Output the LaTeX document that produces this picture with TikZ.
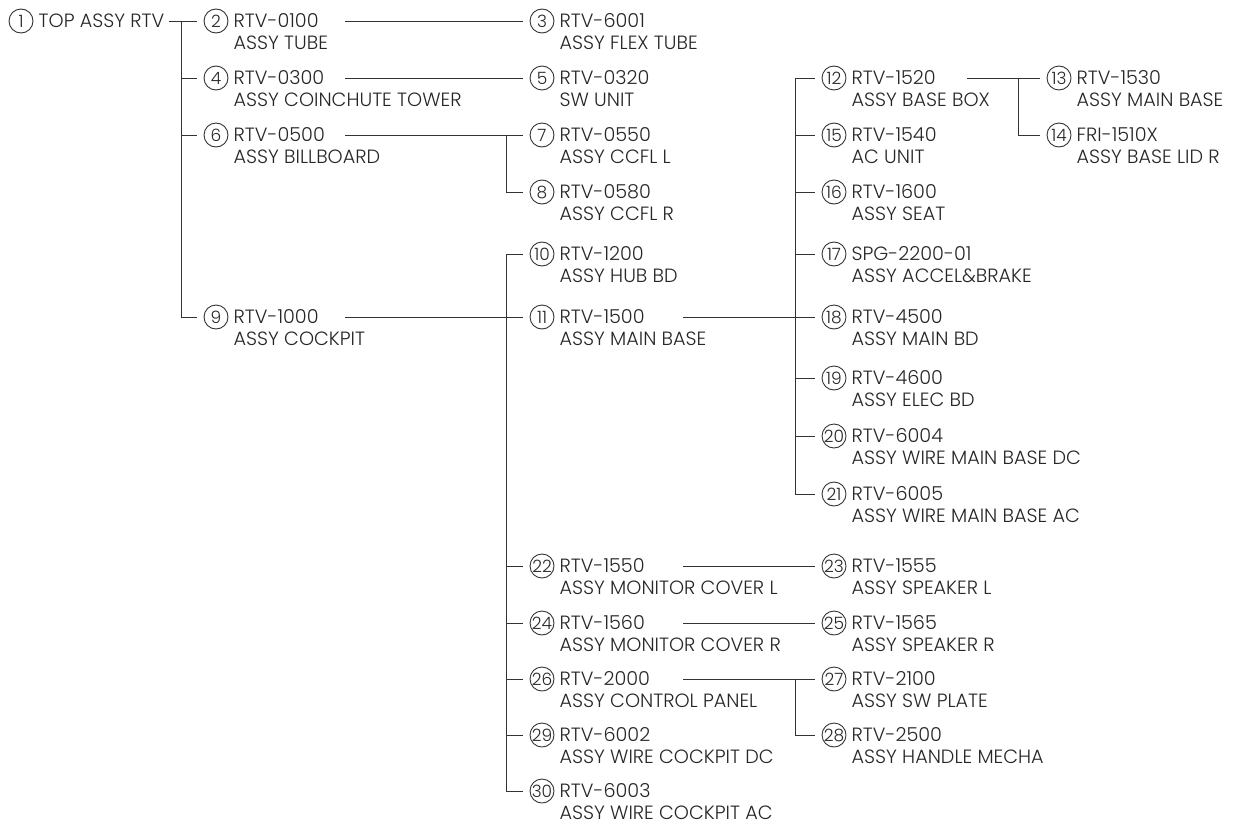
\documentclass[tikz,border=0pt]{standalone}
\usepackage{fontspec}
\setmainfont{Poppins Light}
\usetikzlibrary{positioning,calc}

\begin{document}
\begin{tikzpicture}[
  x=1pt, y=-1pt,
  every node/.style={font=\fontsize{19.2}{22}\selectfont, text=black!85},
  num/.style={circle, draw=black!80, line width=.9pt, minimum size=24pt, inner sep=0pt, font=\fontsize{17}{17}\selectfont},
  title/.style={inner sep=0pt, right=5pt of #1},
  desc/.style={inner sep=0pt, align=left, right=5pt of #1, yshift=-11pt},
  link/.style={draw=black!80, line width=1pt},
  tick/.style={link, shorten >=7pt}
]
  \useasboundingbox (0,0) rectangle (1249,835);

  % top level
  \node[num] (n1) at (21,21) {1};
  \node[title=n1] (t1) {TOP ASSY RTV};

  % second column
  \node[num] (n2) at (216,21) {2};
  \node[desc=n2] (t2) {RTV-0100\\ASSY TUBE};
  \node[num] (n4) at (216,78) {4};
  \node[desc=n4] (t4) {RTV-0300\\ASSY COINCHUTE TOWER};
  \node[num] (n6) at (216,135) {6};
  \node[desc=n6] (t6) {RTV-0500\\ASSY BILLBOARD};
  \node[num] (n9) at (216,317) {9};
  \node[desc=n9] (t9) {RTV-1000\\ASSY COCKPIT};

  % third column
  \node[num] (n3) at (542,21) {3};
  \node[desc=n3] (t3) {RTV-6001\\ASSY FLEX TUBE};
  \node[num] (n5) at (542,78) {5};
  \node[desc=n5] (t5) {RTV-0320\\SW UNIT};
  \node[num] (n7) at (542,135) {7};
  \node[desc=n7] (t7) {RTV-0550\\ASSY CCFL L};
  \node[num] (n8) at (542,192) {8};
  \node[desc=n8] (t8) {RTV-0580\\ASSY CCFL R};
  \node[num] (n10) at (542,254) {10};
  \node[desc=n10] (t10) {RTV-1200\\ASSY HUB BD};
  \node[num] (n11) at (542,317) {11};
  \node[desc=n11] (t11) {RTV-1500\\ASSY MAIN BASE};
  \node[num] (n22) at (542,566) {22};
  \node[desc=n22] (t22) {RTV-1550\\ASSY MONITOR COVER L};
  \node[num] (n24) at (542,623) {24};
  \node[desc=n24] (t24) {RTV-1560\\ASSY MONITOR COVER R};
  \node[num] (n26) at (542,679) {26};
  \node[desc=n26] (t26) {RTV-2000\\ASSY CONTROL PANEL};
  \node[num] (n29) at (542,735) {29};
  \node[desc=n29] (t29) {RTV-6002\\ASSY WIRE COCKPIT DC};
  \node[num] (n30) at (542,791) {30};
  \node[desc=n30] (t30) {RTV-6003\\ASSY WIRE COCKPIT AC};

  % fourth column
  \node[num] (n12) at (834,78) {12};
  \node[desc=n12] (t12) {RTV-1520\\ASSY BASE BOX};
  \node[num] (n15) at (834,135) {15};
  \node[desc=n15] (t15) {RTV-1540\\AC UNIT};
  \node[num] (n16) at (834,192) {16};
  \node[desc=n16] (t16) {RTV-1600\\ASSY SEAT};
  \node[num] (n17) at (834,254) {17};
  \node[desc=n17] (t17) {SPG-2200-01\\ASSY ACCEL\&BRAKE};
  \node[num] (n18) at (834,317) {18};
  \node[desc=n18] (t18) {RTV-4500\\ASSY MAIN BD};
  \node[num] (n19) at (834,378) {19};
  \node[desc=n19] (t19) {RTV-4600\\ASSY ELEC BD};
  \node[num] (n20) at (834,436) {20};
  \node[desc=n20] (t20) {RTV-6004\\ASSY WIRE MAIN BASE DC};
  \node[num] (n21) at (834,494) {21};
  \node[desc=n21] (t21) {RTV-6005\\ASSY WIRE MAIN BASE AC};
  \node[num] (n23) at (834,566) {23};
  \node[desc=n23] (t23) {RTV-1555\\ASSY SPEAKER L};
  \node[num] (n25) at (834,623) {25};
  \node[desc=n25] (t25) {RTV-1565\\ASSY SPEAKER R};
  \node[num] (n27) at (834,679) {27};
  \node[desc=n27] (t27) {RTV-2100\\ASSY SW PLATE};
  \node[num] (n28) at (834,735) {28};
  \node[desc=n28] (t28) {RTV-2500\\ASSY HANDLE MECHA};

  % fifth column
  \node[num] (n13) at (1059,78) {13};
  \node[desc=n13] (t13) {RTV-1530\\ASSY MAIN BASE};
  \node[num] (n14) at (1059,135) {14};
  \node[desc=n14] (t14) {FRI-1510X\\ASSY BASE LID R};

  % branch points
  \coordinate (j1) at ($(n2.west)+(-22,0)$);
  \coordinate (j6) at ($(n7.west)+(-23,0)$);
  \coordinate (j9) at ($(n10.west)+(-23,0)$);
  \coordinate (j11) at ($(n12.west)+(-26,0)$);
  \coordinate (j12) at ($(n13.west)+(-28,0)$);
  \coordinate (j26) at ($(n27.west)+(-26,0)$);

  % 1 -> 2, 4, 6, 9
  \draw[tick] ([xshift=4pt]t1.east) -- (n2.west);
  \draw[tick] (j1) |- (n9.west);
  \draw[tick] (j1 |- n4) -- (n4.west);
  \draw[tick] (j1 |- n6) -- (n6.west);

  % single children
  \draw[tick] ([xshift=117pt]n2.east) -- (n3.west);
  \draw[tick] ([xshift=117pt]n4.east) -- (n5.west);
  \draw[tick] ([xshift=129pt]n22.east) -- (n23.west);
  \draw[tick] ([xshift=129pt]n24.east) -- (n25.west);

  % 6 -> 7, 8
  \draw[tick] ([xshift=117pt]n6.east) -- (n7.west);
  \draw[tick] (j6) |- (n8.west);

  % 9 -> 10 .. 30
  \draw[tick] ([xshift=117pt]n9.east) -- (n11.west);
  \draw[tick] (j9) -- (n10.west);
  \draw[tick] (j9) |- (n30.west);
  \foreach \k in {22,24,26,29}
    \draw[tick] (j9 |- n\k) -- (n\k.west);

  % 11 -> 12 .. 21
  \draw[tick] ([xshift=129pt]n11.east) -- (n18.west);
  \draw[tick] (j11) -- (n12.west);
  \draw[tick] (j11) |- (n21.west);
  \foreach \k in {15,16,17,19,20}
    \draw[tick] (j11 |- n\k) -- (n\k.west);

  % 12 -> 13, 14
  \draw[tick] ([xshift=121pt]n12.east) -- (n13.west);
  \draw[tick] (j12) |- (n14.west);

  % 26 -> 27, 28
  \draw[tick] ([xshift=129pt]n26.east) -- (n27.west);
  \draw[tick] (j26) |- (n28.west);
\end{tikzpicture}
\end{document}
